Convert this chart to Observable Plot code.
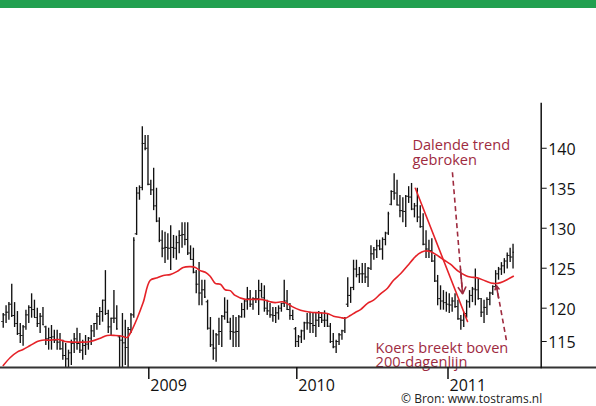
<!DOCTYPE html>
<html>
<head>
<meta charset="utf-8">
<script src="https://cdn.jsdelivr.net/npm/d3@7"></script>
<script src="https://cdn.jsdelivr.net/npm/@observablehq/plot@0.6"></script>
<style>
  body { margin: 0; background: #fff; }
  #wrap { position: relative; width: 596px; height: 406px; overflow: hidden; background: #fff; }
  #topbar { position: absolute; left: 0; top: 0; width: 596px; height: 8px; background: #22a050; }
</style>
</head>
<body>
<div id="wrap"><div id="topbar"></div></div>
<script>
// ---- data (weekly bars, first week starting 2008-01-08) ----
const firstWeek = "2008-01-08";
const high = [119.2,120.3,120.7,123.0,120.7,119.5,117.7,117.4,119.7,120.3,
  121.8,121.0,120.0,119.2,120.1,117.3,117.0,117.4,116.7,116.7,
  116.2,115.2,114.7,113.7,115.2,116.2,117.0,116.2,115.2,115.9,
  115.6,117.4,117.7,119.2,120.1,121.0,124.7,119.7,118.5,122.2,
  120.3,115.9,119.2,118.2,117.1,119.2,128.8,135.1,135.3,142.7,
  141.6,141.6,136.0,137.5,135.0,131.3,129.7,129.5,129.3,130.3,
  129.1,129.0,129.7,130.7,130.7,130.7,127.8,127.5,124.7,125.7,
  123.5,123.5,121.0,118.6,116.7,116.2,118.5,118.9,121.3,121.0,
  118.5,118.9,118.6,118.9,120.6,121.0,122.6,122.2,121.3,122.2,
  123.5,123.1,122.8,121.0,120.6,120.1,120.1,120.3,120.6,123.5,
  122.2,120.6,119.7,117.1,115.9,116.7,117.9,119.2,119.4,119.2,
  119.2,119.5,119.3,119.6,119.2,117.7,116.2,115.2,116.2,116.7,
  118.6,123.8,122.6,126.0,126.0,125.1,125.6,125.6,125.1,127.8,
  127.6,128.5,128.5,128.8,129.5,132.0,134.7,136.8,136.0,134.1,
  133.8,134.1,135.2,135.6,133.1,135.0,132.8,131.8,129.7,128.5,
  128.7,126.6,124.1,122.8,122.2,122.0,121.8,121.3,121.8,121.0,
  118.9,119.4,121.0,122.2,122.6,124.9,123.7,121.2,121.0,121.3,
  122.0,122.8,124.7,125.1,125.7,126.2,126.9,127.5,128.0];
const low = [117.0,117.7,118.2,118.6,117.1,115.9,114.7,114.3,116.7,117.7,
  118.5,118.6,117.1,116.2,117.4,114.4,113.7,113.7,114.7,113.7,
  113.7,112.2,111.1,111.1,111.4,113.2,113.7,113.2,112.2,112.9,
  113.7,114.4,115.6,116.7,117.4,117.9,118.9,116.2,115.9,117.7,
  116.7,111.1,111.1,111.4,111.1,116.2,118.5,129.1,133.5,134.7,
  139.7,135.3,134.1,132.2,130.7,128.2,126.3,125.6,126.0,124.7,
  126.2,126.0,126.8,127.5,127.8,126.6,126.0,124.3,121.8,120.3,
  120.3,121.2,116.7,114.1,112.2,111.9,114.4,114.1,118.2,117.7,
  115.2,114.1,114.1,114.1,118.5,118.5,119.7,120.1,119.7,120.6,
  118.9,121.3,119.4,118.9,118.5,117.9,117.7,118.2,119.4,120.1,
  119.7,118.2,118.2,114.1,114.1,114.7,115.2,116.7,116.2,116.2,
  115.6,117.1,117.7,117.1,117.1,114.7,113.9,113.2,114.4,115.2,
  116.2,120.1,120.6,122.2,123.8,123.1,123.1,123.1,122.6,124.7,
  126.0,126.2,127.2,126.0,127.8,129.1,132.8,133.5,132.8,131.3,
  130.7,130.1,133.1,132.2,131.3,130.7,130.0,127.8,126.2,126.2,
  125.7,123.2,120.3,119.7,119.7,119.4,119.2,119.4,120.0,118.2,
  116.7,117.1,118.5,120.0,120.7,120.3,121.0,118.6,117.7,118.9,
  120.3,121.6,122.6,123.5,124.1,124.3,124.9,125.7,124.9];
const open = [118.0,119.0,119.4,120.5,118.9,117.7,116.2,115.9,117.2,119.0,
  120.1,119.8,118.6,117.7,118.8,117.2,115.4,115.6,115.7,115.2,
  114.9,113.9,112.9,112.4,113.3,114.7,115.4,114.7,113.7,114.4,
  114.6,115.5,116.6,117.7,118.8,119.5,121.0,119.2,117.2,118.5,
  118.5,115.7,115.2,114.8,114.1,116.8,119.0,129.3,134.4,135.1,
  140.6,140.0,135.5,134.8,132.8,130.9,128.5,127.5,127.6,127.5,
  127.6,127.5,128.2,129.1,129.2,128.6,126.9,126.1,124.5,123.0,
  121.9,122.3,120.8,117.0,114.5,114.0,116.0,116.5,118.8,119.4,
  117.9,116.5,116.4,116.5,118.7,119.8,120.9,121.2,120.5,121.2,
  121.2,122.2,121.3,120.0,119.6,119.0,118.9,119.3,120.0,120.6,
  120.9,119.8,118.9,116.9,115.0,115.7,116.6,117.8,117.8,117.7,
  117.4,118.2,118.6,118.2,118.2,117.3,115.0,114.2,115.0,116.0,
  116.6,120.5,121.6,122.6,124.9,124.2,124.3,124.3,123.9,125.0,
  126.8,127.3,127.8,127.4,128.6,129.4,133.0,134.6,134.4,132.9,
  132.2,132.1,134.0,133.9,132.4,132.8,131.4,130.2,128.0,127.4,
  127.2,125.9,123.4,121.2,120.9,120.7,120.5,120.4,120.9,120.2,
  118.4,118.2,119.2,120.8,121.6,122.4,122.3,121.2,119.4,120.1,
  121.1,121.9,122.7,124.3,124.9,125.3,125.9,126.6,126.4];
const close = [119.0,119.4,120.5,118.9,117.7,116.2,115.9,117.2,119.0,120.1,
  119.8,118.6,117.7,118.8,117.5,115.4,115.6,115.7,115.2,114.9,
  113.9,112.9,112.4,113.3,114.7,115.4,114.7,113.7,114.4,114.6,
  115.5,116.6,117.7,118.8,119.5,121.0,119.2,117.2,118.5,118.5,
  116.9,115.2,114.8,114.1,116.8,119.0,128.5,134.4,135.1,140.6,
  140.0,135.5,134.8,132.8,130.9,128.5,127.5,127.6,127.5,127.6,
  127.5,128.2,129.1,129.2,128.6,126.9,126.1,124.5,123.0,121.9,
  122.3,121.4,117.0,114.5,114.0,116.0,116.5,118.8,119.4,117.9,
  116.5,116.4,116.5,118.7,119.8,120.9,121.2,120.5,121.2,121.2,
  122.2,121.3,120.0,119.6,119.0,118.9,119.3,120.0,120.6,120.9,
  119.8,118.9,118.3,115.0,115.7,116.6,117.8,117.8,117.7,117.4,
  118.2,118.6,118.2,118.2,117.3,115.0,114.2,115.0,116.0,116.6,
  118.5,121.6,122.6,124.9,124.2,124.3,124.3,123.9,125.0,126.8,
  127.3,127.8,127.4,128.6,129.4,131.8,134.6,134.4,132.9,132.2,
  132.1,134.0,133.9,132.4,132.8,131.4,130.2,128.0,127.4,127.2,
  125.9,123.4,121.2,120.9,120.7,120.5,120.4,120.9,120.2,118.4,
  118.2,119.2,120.8,121.6,122.4,122.3,121.2,119.4,120.1,121.1,
  121.9,122.7,124.3,124.9,125.3,125.9,126.6,126.4,127.0];

// 200-day moving average, read at week positions
const maWeek = [0,2.5,4.9,7,9.5,12,13.7,16.6,19.4,21.8,24.7,27.8,30.7,34.2,36.6,39.5,41.9,43.7,44.7,47.2,
  49.3,51.8,54.3,56.4,58.8,61.3,63.4,65.9,67.7,69.4,71.2,72.9,74.7,76.5,78.2,80,81.7,85.3,87,88.8,
  90.6,92.3,94.1,95.8,98.3,100,101.8,104.7,108.1,111.6,114,116.1,118.5,120.2,121.9,123.7,125.4,127.8,129.9,132.3,
  134.7,136.8,139.2,141.6,143.7,145.4,147.5,149.5,152.3,154.3,156.4,159.2,161.6,163.3,165.7,168.5,171.2,173.7,176.1,178.1];
const maValue = [111.4,112.6,113.4,113.8,114.4,115.0,115.2,115.2,115.3,115.0,114.9,114.9,115.0,115.5,115.9,115.9,115.8,115.6,116.2,118.5,
  120.7,123.5,123.8,124.1,124.2,124.6,125.1,125.2,125.1,124.7,124.5,124.0,123.1,123.0,122.3,122.2,121.6,121.1,121.1,121.1,
  121.1,121.0,120.8,120.7,120.8,120.6,120.2,119.7,119.4,119.3,119.2,118.8,118.6,118.5,118.9,119.4,119.8,120.6,121.0,121.8,
  122.5,123.5,124.3,125.3,126.2,126.8,127.15,127.1,126.5,126.0,125.5,124.6,124.1,123.9,123.8,123.4,123.1,123.2,123.6,124.0];

// falling trend line
const trendWeek = [144.3, 162.3];
const trendValue = [135.0, 118.0];

// annotations (value = baseline of the last line)
const noteTexts = ["Dalende trend\ngebroken", "Koers breekt boven\n200-dagenlijn"];
const noteWeek = [143.3, 130.6];
const noteValue = [137.9, 111.2];
const noteLineHeight = [1.03, 0.92];
const arrowFromWeek = [157.1, 175.7];
const arrowFromValue = [137.0, 115.2];
const arrowToWeek = [160.6, 172.3];
const arrowToValue = [121.8, 122.8];

// axes
const yTicks = [115, 120, 125, 130, 135, 140];
const yearTicks = ["2009-01-01", "2010-01-01", "2011-01-01"];
const sourceText = "© Bron: www.tostrams.nl";

// ---- build ----
const t0 = Date.parse(firstWeek + "T00:00:00Z");
const dateOf = w => new Date(t0 + w * 7 * 864e5);
const bars = high.map((h, i) => ({date: dateOf(i), high: h, low: low[i], open: open[i], close: close[i]}));
const ma = maWeek.map((w, i) => ({date: dateOf(w), value: maValue[i]}));
const trend = trendWeek.map((w, i) => ({date: dateOf(w), value: trendValue[i]}));
const notes = noteTexts.map((t, i) => ({text: t, date: dateOf(noteWeek[i]), value: noteValue[i]}));
const arrows = arrowFromWeek.map((w, i) => ({
  d1: dateOf(w), v1: arrowFromValue[i], d2: dateOf(arrowToWeek[i]), v2: arrowToValue[i]
}));
const years = yearTicks.map(s => new Date(s + "T00:00:00Z"));
const tickSpan = 3.5 * 864e5;
const red = "#e52228";
const noteColor = "#9e2b3f";
const yAxisShift = -55.3;

const chart = Plot.plot({
  width: 596,
  height: 406,
  marginTop: 103,
  marginBottom: 39,
  marginLeft: 0,
  marginRight: 0,
  x: {type: "utc", domain: years, range: [148.3, 296.3, 447.5]},
  y: {type: "linear", domain: [111.1, 115, 120, 145.6], range: [367, 341, 307.7, 103]},
  style: {fontFamily: "'Open Sans', sans-serif", background: "#fff", color: "#111"},
  marks: [
    // price bars
    Plot.ruleX(bars, {x: "date", y1: "low", y2: "high", stroke: "#111", strokeWidth: 1.35}),
    Plot.ruleY(bars, {x1: d => new Date(+d.date - tickSpan), x2: "date", y: "open", stroke: "#111", strokeWidth: 1}),
    Plot.ruleY(bars, {x1: "date", x2: d => new Date(+d.date + tickSpan), y: "close", stroke: "#111", strokeWidth: 1}),
    // moving average and trend line
    Plot.line(ma, {x: "date", y: "value", stroke: red, strokeWidth: 1.6, curve: "catmull-rom"}),
    Plot.line(trend, {x: "date", y: "value", stroke: red, strokeWidth: 1.6}),
    // dashed annotation arrows
    Plot.link(arrows, {x1: "d1", y1: "v1", x2: "d2", y2: "v2", stroke: noteColor, strokeWidth: 1.6, strokeDasharray: "5,3.5"}),
    Plot.arrow(arrows, {
      x1: d => new Date(+d.d1 + 0.8 * (d.d2 - d.d1)), y1: d => d.v1 + 0.8 * (d.v2 - d.v1),
      x2: "d2", y2: "v2", stroke: noteColor, strokeWidth: 1.6, headLength: 7
    }),
    Plot.text(notes.slice(0, 1), {x: "date", y: "value", text: "text", textAnchor: "start", lineAnchor: "bottom",
      lineHeight: noteLineHeight[0], fill: noteColor, fontSize: 14.6}),
    Plot.text(notes.slice(1, 2), {x: "date", y: "value", text: "text", textAnchor: "start", lineAnchor: "bottom",
      lineHeight: noteLineHeight[1], fill: noteColor, fontSize: 14.6}),
    // axes
    Plot.frame({anchor: "bottom", stroke: "#333", strokeWidth: 2}),
    Plot.frame({anchor: "right", stroke: "#111", strokeWidth: 1.5, dx: yAxisShift}),
    Plot.axisY({ticks: yTicks, anchor: "right", tickSize: 5, tickFormat: () => "", label: null, dx: yAxisShift, stroke: "#111"}),
    Plot.axisY({ticks: yTicks, anchor: "right", tickSize: 0, tickPadding: 7, label: null, dx: yAxisShift, dy: 1.5,
      fontSize: 16, fill: "#111"}),
    Plot.axisX({ticks: years, tickSize: 12, tickFormat: () => "", label: null, stroke: "#111", strokeWidth: 1.5}),
    Plot.axisX({ticks: years, tickSize: 0, tickPadding: 12, label: null, tickFormat: d => String(d.getUTCFullYear()),
      textAnchor: "start", dx: 1.5, fontSize: 16, fill: "#111"}),
    Plot.text([sourceText], {frameAnchor: "bottom-right", textAnchor: "end", lineAnchor: "bottom",
      dx: -54.3, dy: 35.2, fontSize: 12, fill: "#222"})
  ]
});
document.getElementById("wrap").insertBefore(chart, document.getElementById("topbar"));
chart.style.position = "absolute";
chart.style.left = "0";
chart.style.top = "0";
</script>
</body>
</html>
